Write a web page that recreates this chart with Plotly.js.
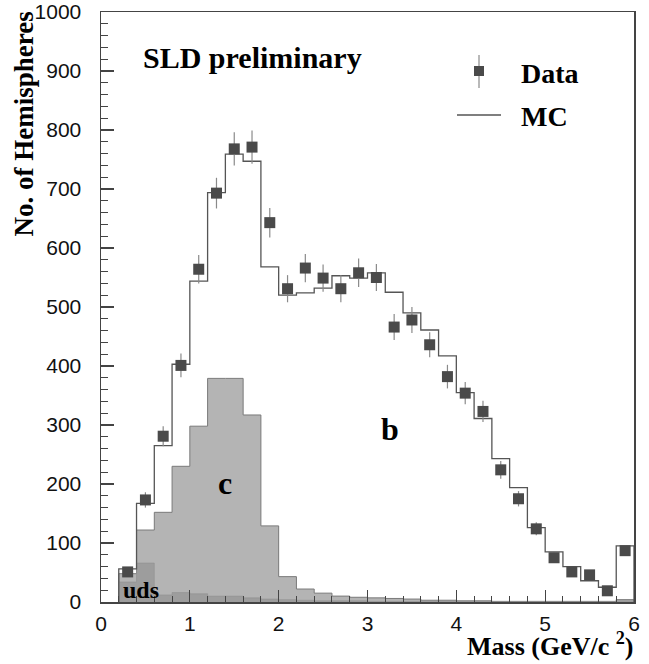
<!DOCTYPE html>
<html>
<head>
<meta charset="utf-8">
<script src="https://cdn.plot.ly/plotly-3.0.1.min.js"></script>
<style>
html,body{margin:0;padding:0;background:#fff;}
#chart{width:649px;height:664px;}
</style>
</head>
<body>
<div id="chart"></div>
<script>
// Bin centres (GeV/c^2), bin width 0.2
var massCenters = [0.3,0.5,0.7,0.9,1.1,1.3,1.5,1.7,1.9,2.1,2.3,2.5,2.7,2.9,3.1,3.3,3.5,3.7,3.9,4.1,4.3,4.5,4.7,4.9,5.1,5.3,5.5,5.7,5.9];
var binWidth = 0.2;
// Data (hemispheres) and errors
var dataCounts = [51,173,281,401,564,693,768,771,643,531,566,549,531,558,550,466,478,436,382,354,323,224,175,124,75,51,46,19,87];
var dataErrors = [7,13,17,20,24,26,28,28,25,23,24,23,23,24,23,22,22,21,20,19,18,15,13,11,9,7,7,4,9];
// MC total
var mcTotal = [56,167,265,403,544,694,759,747,568,520,524,532,553,549,558,525,490,461,417,355,311,243,194,126,85,60,36,25,95];
// MC charm component
var mcCharm = [48,122,152,230,298,379,379,317,129,43,22,15,10,8,7,6,5,3,3,2,2,1,1,1,1,1,1,1,4];
// MC uds component
var mcUds = [34,66,12,16,14,10,10,7,5,4,3,2,2,2,1,1,1,1,1,1,1,1,1,1,1,1,1,1,2];

var serif = "Liberation Serif, Times New Roman, serif";
var sans = "Liberation Sans, Arial, Helvetica, sans-serif";

// build step outlines from bin centres
function stepXY(vals){
  var xs = [], ys = [];
  xs.push(massCenters[0]-binWidth/2); ys.push(0);
  for (var i=0;i<vals.length;i++){ xs.push(massCenters[i]-binWidth/2); ys.push(vals[i]); }
  var last = massCenters[massCenters.length-1]+binWidth/2;
  xs.push(last); ys.push(vals[vals.length-1]);
  xs.push(last); ys.push(0);
  return {x:xs, y:ys};
}
var cS = stepXY(mcCharm), uS = stepXY(mcUds), mS = stepXY(mcTotal);

var traces = [
  {x:cS.x, y:cS.y, type:'scatter', mode:'lines', line:{shape:'hv', color:'#7a7a7a', width:1}, fill:'tozeroy', fillcolor:'#b4b4b4', hoverinfo:'skip', showlegend:false},
  {x:uS.x, y:uS.y, type:'scatter', mode:'lines', line:{shape:'hv', color:'#8c8c8c', width:0.5}, fill:'tozeroy', fillcolor:'#9d9d9d', hoverinfo:'skip', showlegend:false},
  {x:mS.x, y:mS.y, type:'scatter', mode:'lines', line:{shape:'hv', color:'#555555', width:1.3}, name:'MC', showlegend:false},
  {x:massCenters, y:dataCounts, type:'scatter', mode:'markers', name:'Data', showlegend:false,
   marker:{symbol:'square', size:11, color:'#4a4a4a'},
   error_y:{type:'data', array:dataErrors, visible:true, color:'#8a8a8a', thickness:1.2, width:0}}
];

var L=101, R=634, T=12, B=602;
function px(xp){ return (xp-L)/(R-L); }
function py(yp){ return (B-yp)/(B-T); }

var layout = {
  width:649, height:664,
  margin:{l:L, r:649-R, t:T, b:664-B},
  paper_bgcolor:'#fff', plot_bgcolor:'#fff',
  showlegend:false,
  xaxis:{range:[0,6], dtick:1, tick0:0, ticks:'inside', ticklen:12, tickwidth:1.2, tickcolor:'#444',
    showline:true, linecolor:'#444', linewidth:1.5, mirror:true, showgrid:false, zeroline:false,
    tickfont:{family:sans, size:21, color:'#111'}, ticklabelstandoff:2,
    minor:{dtick:0.2, ticks:'inside', ticklen:6, tickwidth:1, tickcolor:'#444', showgrid:false}},
  yaxis:{range:[0,1000], dtick:100, tick0:0, ticks:'inside', ticklen:13, tickwidth:1.2, tickcolor:'#444',
    showline:true, linecolor:'#444', linewidth:1.5, mirror:true, showgrid:false, zeroline:false,
    tickfont:{family:sans, size:21, color:'#111'}, ticklabelstandoff:14,
    minor:{dtick:20, ticks:'inside', ticklen:7, tickwidth:1, tickcolor:'#444', showgrid:false}},
  annotations:[
    {xref:'paper', yref:'paper', x:px(141), y:py(58), xanchor:'left', yanchor:'middle', showarrow:false,
     text:'<b>SLD preliminary</b>', font:{family:serif, size:30, color:'#000'}},
    {xref:'paper', yref:'paper', x:px(519), y:py(73), xanchor:'left', yanchor:'middle', showarrow:false,
     text:'<b>Data</b>', font:{family:serif, size:28, color:'#000'}},
    {xref:'paper', yref:'paper', x:px(519), y:py(116), xanchor:'left', yanchor:'middle', showarrow:false,
     text:'<b>MC</b>', font:{family:serif, size:28, color:'#000'}},
    {xref:'paper', yref:'paper', x:px(390), y:py(429), xanchor:'center', yanchor:'middle', showarrow:false,
     text:'<b>b</b>', font:{family:serif, size:32, color:'#000'}},
    {xref:'paper', yref:'paper', x:px(225), y:py(483), xanchor:'center', yanchor:'middle', showarrow:false,
     text:'<b>c</b>', font:{family:serif, size:32, color:'#000'}},
    {xref:'paper', yref:'paper', x:px(141), y:py(590), xanchor:'center', yanchor:'middle', showarrow:false,
     text:'<b>uds</b>', font:{family:serif, size:24, color:'#000'}},
    {xref:'paper', yref:'paper', x:px(23), y:py(10), xanchor:'center', yanchor:'top', textangle:-90, showarrow:false,
     text:'<b>No. of Hemispheres</b>', font:{family:serif, size:27, color:'#000'}},
    {xref:'paper', yref:'paper', x:px(636), y:py(663), xanchor:'right', yanchor:'bottom', showarrow:false,
     text:'<b>Mass (GeV/c <sup>2</sup>)</b>', font:{family:serif, size:26, color:'#000'}}
  ],
  shapes:[
    {type:'line', xref:'paper', yref:'paper', x0:px(479), x1:px(479), y0:py(55), y1:py(88), line:{color:'#8a8a8a', width:1.2}},
    {type:'rect', xref:'paper', yref:'paper', x0:px(474), x1:px(484), y0:py(66), y1:py(76), line:{width:0}, fillcolor:'#4a4a4a'},
    {type:'line', xref:'paper', yref:'paper', x0:px(457), x1:px(501), y0:py(115), y1:py(115), line:{color:'#555', width:1.3}}
  ]
};

Plotly.newPlot('chart', traces, layout, {displayModeBar:false, staticPlot:true});
</script>
</body>
</html>
